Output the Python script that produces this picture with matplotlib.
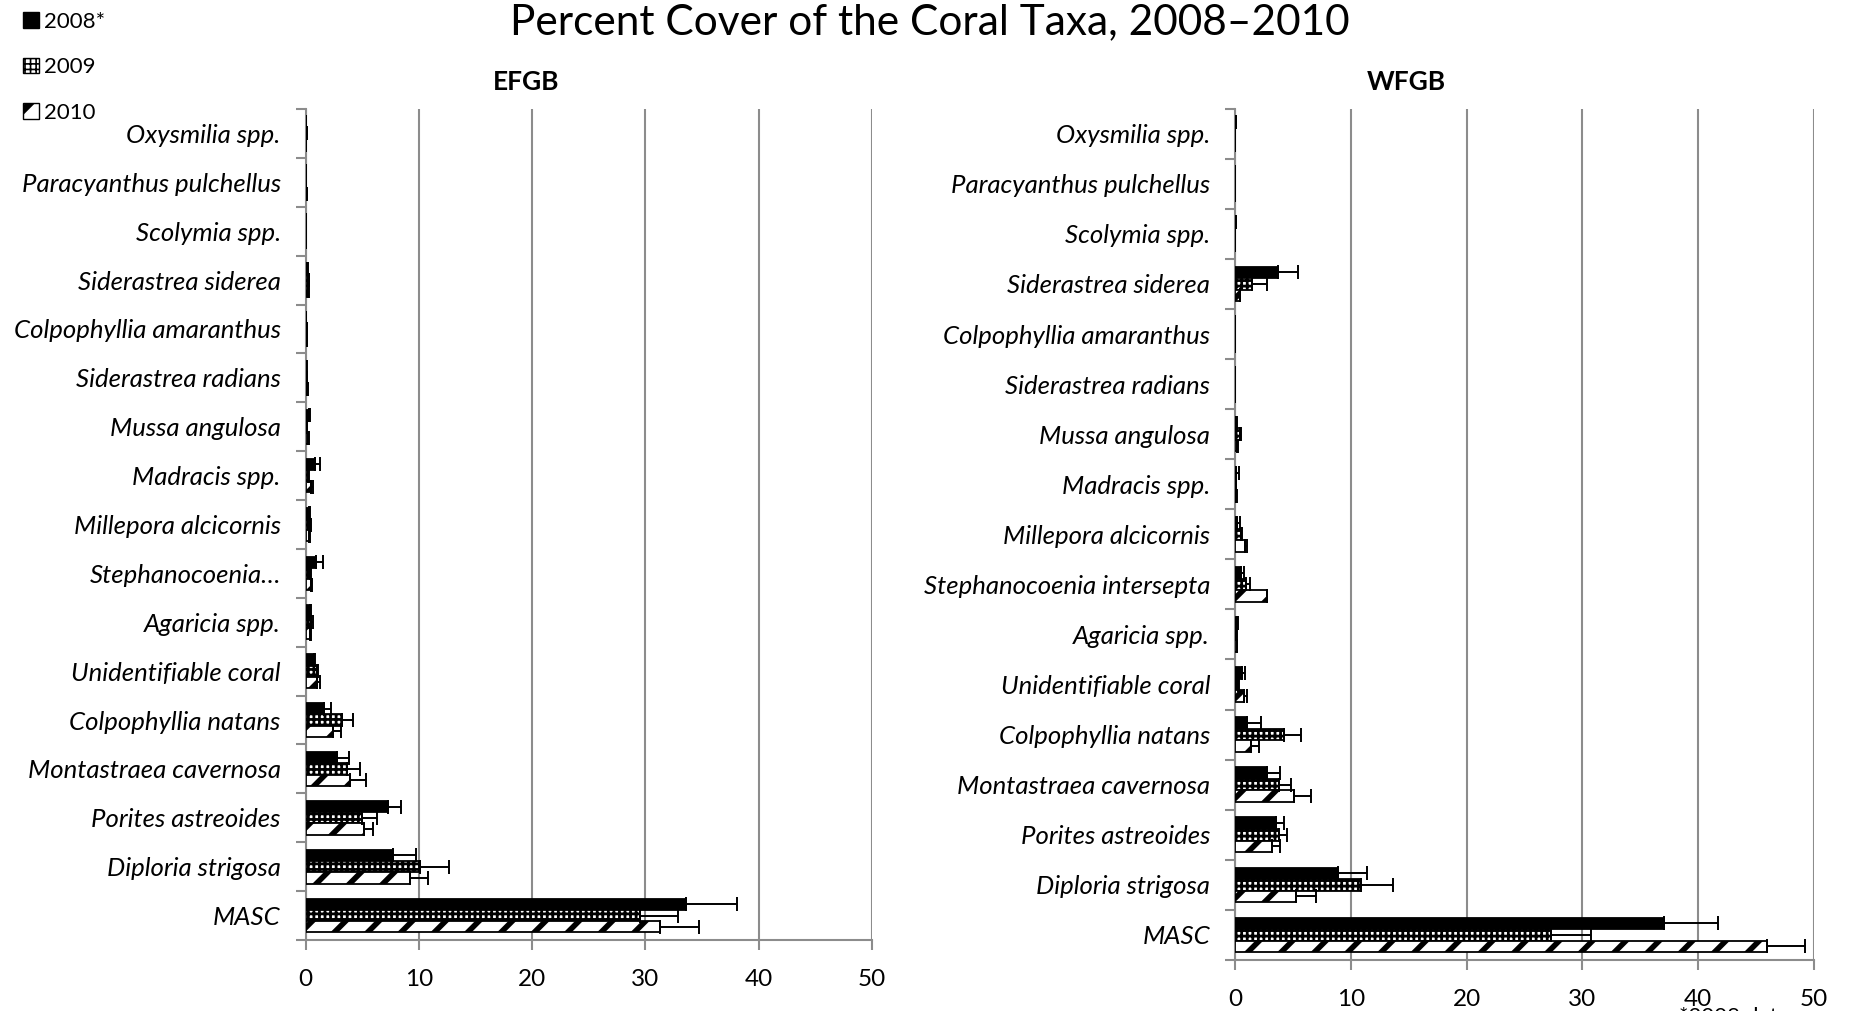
import numpy as np
import matplotlib
matplotlib.use('Agg')
import matplotlib.pyplot as plt
from matplotlib.patches import Patch

plt.rcParams['font.family'] = ['Lato', 'DejaVu Sans']

# taxa, listed top to bottom as drawn
taxa = ['Oxysmilia spp.', 'Paracyanthus pulchellus', 'Scolymia spp.',
        'Siderastrea siderea', 'Colpophyllia amaranthus', 'Siderastrea radians',
        'Mussa angulosa', 'Madracis spp.', 'Millepora alcicornis',
        'Stephanocoenia intersepta', 'Agaricia spp.', 'Unidentifiable coral',
        'Colpophyllia natans', 'Montastraea cavernosa', 'Porites astreoides',
        'Diploria strigosa', 'MASC']
years = ['2008*', '2009', '2010']

# EFGB percent cover and + error
efgb_2008 = [0.0, 0.0, 0.0, 0.15, 0.0, 0.05, 0.3, 0.85, 0.3, 0.9, 0.4, 0.7, 1.6, 2.8, 7.25, 7.7, 33.6]
efgb_2008_err = [0, 0, 0, 0.05, 0, 0.05, 0.1, 0.4, 0.1, 0.6, 0.1, 0.15, 0.65, 1.0, 1.15, 2.0, 4.5]
efgb_2009 = [0.1, 0.05, 0.05, 0.25, 0.1, 0.1, 0.1, 0.2, 0.4, 0.35, 0.5, 0.95, 3.2, 3.6, 4.95, 10.1, 29.5]
efgb_2009_err = [0, 0, 0, 0.05, 0.05, 0.05, 0.05, 0.1, 0.1, 0.1, 0.1, 0.15, 1.0, 1.2, 1.3, 2.55, 3.4]
efgb_2010 = [0.05, 0.1, 0.05, 0.2, 0.1, 0.15, 0.2, 0.5, 0.3, 0.45, 0.4, 1.0, 2.45, 3.9, 5.15, 9.2, 31.3]
efgb_2010_err = [0, 0, 0, 0.05, 0.05, 0.05, 0.05, 0.15, 0.1, 0.1, 0.1, 0.25, 0.65, 1.4, 0.75, 1.6, 3.4]

# WFGB percent cover and + error
wfgb_2008 = [0.05, 0, 0.05, 3.7, 0, 0, 0.1, 0.1, 0.2, 0.5, 0.2, 0.6, 1.05, 2.75, 3.5, 8.9, 37.0]
wfgb_2008_err = [0, 0, 0, 1.7, 0, 0, 0.1, 0.25, 0.25, 0.3, 0.1, 0.3, 1.2, 1.1, 0.7, 2.5, 4.7]
wfgb_2009 = [0, 0, 0, 1.5, 0, 0, 0.4, 0.05, 0.5, 0.95, 0.1, 0.25, 4.25, 3.8, 3.8, 10.9, 27.3]
wfgb_2009_err = [0, 0, 0, 1.3, 0, 0, 0.1, 0.05, 0.1, 0.3, 0.05, 0.1, 1.45, 1.05, 0.65, 2.7, 3.4]
wfgb_2010 = [0, 0, 0, 0.4, 0, 0, 0.2, 0.1, 0.9, 2.8, 0.15, 0.8, 1.4, 5.1, 3.2, 5.3, 45.9]
wfgb_2010_err = [0, 0, 0, 0, 0, 0, 0.05, 0.05, 0.1, 0, 0.05, 0.25, 0.7, 1.5, 0.65, 1.7, 3.3]

styles = [dict(color='black', hatch=None, hlw=1.0, leg_hlw=1.0),
          dict(color='white', hatch='+++', hlw=2.0, leg_hlw=1.2),
          dict(color='white', hatch='/', hlw=4.0, leg_hlw=5.0)]
grid_gray = '#8c8c8c'


def draw_panel(ax, series, errors, labels):
    n = len(labels)
    ypos = np.arange(n)[::-1]
    h = 0.23
    offsets = [h, 0, -h]
    for vals, errs, st, off in zip(series, errors, styles, offsets):
        plt.rcParams['hatch.linewidth'] = st['hlw']
        bars = ax.barh(ypos + off, vals, height=h, color=st['color'],
                       edgecolor='black', linewidth=1.3, hatch=st['hatch'],
                       zorder=3)
        for b in bars:
            if hasattr(b, 'set_hatch_linewidth'):
                b.set_hatch_linewidth(st['hlw'])
        ax.errorbar(vals, ypos + off, xerr=[np.zeros(n), errs], fmt='none',
                    ecolor='black', elinewidth=1.4, capsize=5, capthick=1.4,
                    zorder=4)
    ax.set_xlim(0, 50)
    ax.set_ylim(-0.5, n - 0.5)
    ax.set_xticks(np.arange(0, 51, 10))
    ax.set_yticks(np.arange(-0.5, n, 1))
    ax.set_yticklabels([])
    ax.set_yticks(ypos, minor=True)
    ax.set_yticklabels(labels, minor=True, fontstyle='italic', fontsize=18.5)
    ax.tick_params(axis='y', which='minor', length=0, pad=18)
    ax.tick_params(axis='y', which='major', length=7, color=grid_gray, width=1.5)
    ax.tick_params(axis='x', length=7, color=grid_gray, width=1.5,
                   labelsize=17.5, pad=14)
    ax.grid(axis='x', color=grid_gray, linewidth=1.5, zorder=0)
    for side in ['top', 'right']:
        ax.spines[side].set_visible(False)
    for side in ['left', 'bottom']:
        ax.spines[side].set_color(grid_gray)
        ax.spines[side].set_linewidth(1.5)


fig = plt.figure(figsize=(18.53, 10.11), dpi=100)
ax1 = fig.add_axes([0.165, 0.0702, 0.3055, 0.822])
ax2 = fig.add_axes([0.6665, 0.0505, 0.3125, 0.842])

efgb_labels = list(taxa)
efgb_labels[9] = 'Stephanocoenia…'
draw_panel(ax1, [efgb_2008, efgb_2009, efgb_2010],
           [efgb_2008_err, efgb_2009_err, efgb_2010_err], efgb_labels)
draw_panel(ax2, [wfgb_2008, wfgb_2009, wfgb_2010],
           [wfgb_2008_err, wfgb_2009_err, wfgb_2010_err], taxa)

fig.text(0.502, 0.978, 'Percent Cover of the Coral Taxa, 2008–2010',
         ha='center', va='center', fontsize=30.5)
fig.text(0.284, 0.919, 'EFGB', ha='center', va='center', fontsize=19,
         fontweight='bold')
fig.text(0.759, 0.919, 'WFGB', ha='center', va='center', fontsize=19,
         fontweight='bold')

# legend in the top left corner
handles = []
for st, yr in zip(styles, years):
    plt.rcParams['hatch.linewidth'] = st['leg_hlw']
    p = Patch(facecolor=st['color'], edgecolor='black', hatch=st['hatch'],
              label=yr)
    if hasattr(p, 'set_hatch_linewidth'):
        p.set_hatch_linewidth(st['leg_hlw'])
    handles.append(p)
leg = fig.legend(handles=handles, loc='upper left',
                 bbox_to_anchor=(0.004, 1.004), frameon=False, fontsize=16,
                 handlelength=0.7, handleheight=0.7, handletextpad=0.25,
                 labelspacing=1.15, borderaxespad=0.3)
for lp, st in zip(leg.get_patches(), styles):
    if hasattr(lp, 'set_hatch_linewidth'):
        lp.set_hatch_linewidth(st['leg_hlw'])

fig.text(0.906, 0.004, '*2008 data', ha='left', va='top', fontsize=16)

fig.savefig('out.png', dpi=100)
